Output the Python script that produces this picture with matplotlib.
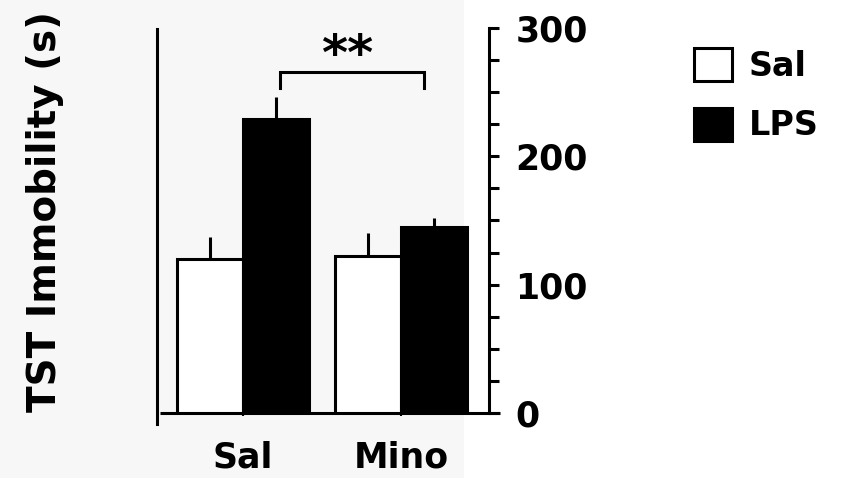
import matplotlib
matplotlib.use("Agg")
import matplotlib.pyplot as plt
from matplotlib.patches import Rectangle
from matplotlib.lines import Line2D
import numpy as np

groups = ["Sal", "Mino"]
series = ["Sal", "LPS"]
sal_means = [120, 122]
sal_errs = [17, 18]
lps_means = [229, 145]
lps_errs = [17, 7]
yticks_major = [0, 100, 200, 300]
sig_label = "**"

W, H = 841, 478
fig = plt.figure(figsize=(W / 100, H / 100), dpi=100)
fig.patches.append(Rectangle((0, 0), 464 / W, 1, transform=fig.transFigure,
                             facecolor="#f7f7f7", edgecolor="none", zorder=-10))

FONT = "DejaVu Sans"
FS = 25

ax = fig.add_axes([157 / W, 65 / H, 332 / W, 385 / H])
ax.patch.set_visible(False)

x = np.arange(len(groups))
bw = 0.42
lw = 2.2
b1 = ax.bar(x - bw / 2, sal_means, bw, color="white", edgecolor="black", linewidth=lw, zorder=3)
b2 = ax.bar(x + bw / 2, lps_means, bw, color="black", edgecolor="black", linewidth=lw, zorder=3)
ax.errorbar(x - bw / 2, sal_means, yerr=[np.zeros(len(x)), sal_errs], fmt="none",
            ecolor="black", elinewidth=2.2, capsize=0, zorder=2)
ax.errorbar(x + bw / 2, lps_means, yerr=[np.zeros(len(x)), lps_errs], fmt="none",
            ecolor="black", elinewidth=2.2, capsize=0, zorder=2)

ax.set_xlim(-0.544, 1.557)
ax.set_ylim(0, 300)

for s in ["top", "left", "bottom"]:
    ax.spines[s].set_visible(False)
ax.spines["right"].set_linewidth(2.2)

# custom left and bottom lines
ax.add_line(Line2D([0, 0], [-0.029, 0.997], transform=ax.transAxes, color="black",
                   lw=2.2, clip_on=False))
ax.add_line(Line2D([0.009, 1.033], [0, 0], transform=ax.transAxes, color="black",
                   lw=2.2, clip_on=False, solid_capstyle="butt"))

ax.yaxis.tick_right()
ax.set_yticks(yticks_major)
ax.set_yticks(np.arange(0, 301, 25), minor=True)
ax.set_yticklabels([str(v) for v in yticks_major], fontsize=FS, fontweight="bold", family=FONT)
ax.tick_params(axis="y", which="both", direction="out", length=7, width=2.2, pad=12)
ax.set_xticks(x)
ax.set_xticklabels(groups, fontsize=FS, fontweight="bold", family=FONT)
ax.tick_params(axis="x", direction="out", length=2, width=1.5, pad=18)

# significance bracket
bx0, bx1 = 0.234, 1.146
ax.plot([bx0, bx0, bx1, bx1], [253, 266, 266, 253], color="black", lw=2.2, clip_on=False,
        solid_joinstyle="miter")
ax.text((bx0 + bx1) / 2 - 0.03, 278, sig_label, ha="center", va="center", fontsize=36,
        fontweight="bold", family=FONT)

fig.text(45 / W, 1 - 211 / H, "TST Immobility (s)", rotation=90, ha="center", va="center",
         fontsize=28, fontweight="bold", family=FONT)

handles = [Rectangle((0, 0), 1, 1, facecolor="white", edgecolor="black", linewidth=lw),
           Rectangle((0, 0), 1, 1, facecolor="black", edgecolor="black", linewidth=lw)]
fig.legend(handles, series, loc="upper left", bbox_to_anchor=(677 / W, 1 - 31 / H),
           frameon=False, borderpad=0, handlelength=1.15, handleheight=1.15,
           handletextpad=0.5, labelspacing=0.75,
           prop={"family": FONT, "weight": "bold", "size": 24})

fig.savefig("out.png", dpi=100)
